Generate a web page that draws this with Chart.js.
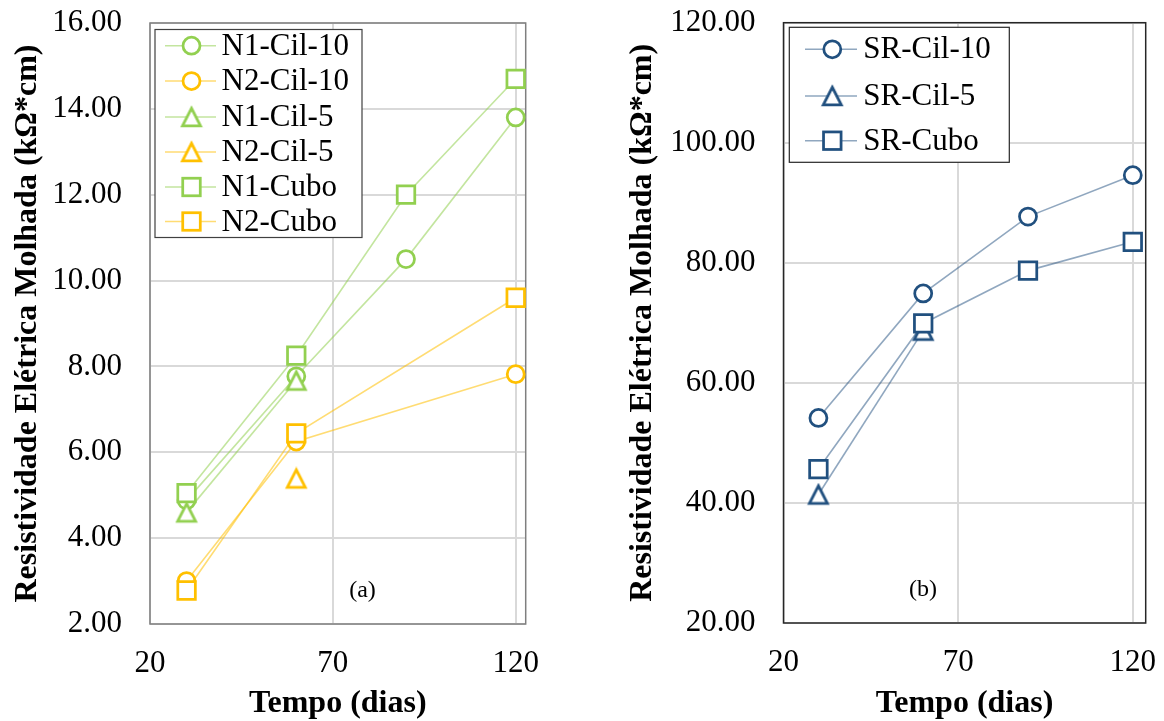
<!DOCTYPE html>
<html><head><meta charset="utf-8">
<script src="https://cdn.jsdelivr.net/npm/chart.js@4/dist/chart.umd.min.js"></script>
<style>
html,body{margin:0;padding:0;background:#fff;width:1164px;height:721px;overflow:hidden}
#ca{position:absolute;left:0;top:0}
#cb{position:absolute;left:580px;top:0}
</style></head><body>
<canvas id="ca" width="580" height="721"></canvas>
<canvas id="cb" width="584" height="721"></canvas>
<script>
// ---- data ----
const days = [30, 60, 90, 120];
const n1Cil10 = [4.88, 7.77, 10.5, 13.8];
const n2Cil10 = [3.0, 6.25, null, 7.82];
const n1Cil5  = [4.6, 7.67, null, null];
const n2Cil5  = [null, 5.39, null, null];
const n1Cubo  = [5.05, 8.25, 12.0, 14.7];
const n2Cubo  = [2.78, 6.44, null, 9.6];

const srCil10 = [54.15, 74.9, 87.7, 94.6];
const srCil5  = [41.4, 68.7, null, null];
const srCubo  = [45.65, 69.9, 78.7, 83.5];

const xTickValues = [20, 70, 120];
const yTicksA = [2, 4, 6, 8, 10, 12, 14, 16];
const yTicksB = [20, 40, 60, 80, 100, 120];
const labelsA = ['N1-Cil-10', 'N2-Cil-10', 'N1-Cil-5', 'N2-Cil-5', 'N1-Cubo', 'N2-Cubo'];
const labelsB = ['SR-Cil-10', 'SR-Cil-5', 'SR-Cubo'];
const yTitle = 'Resistividade Elétrica Molhada (kΩ*cm)';
const xTitle = 'Tempo (dias)';

// ---- styles ----
const FONT = "'Liberation Serif', 'Times New Roman', serif";
const GREEN = '#92D050', GREEN_L = 'rgba(146,208,80,0.55)';
const ORANGE = '#FFC000', ORANGE_L = 'rgba(255,192,0,0.55)';
const BLUE = '#21507F', BLUE_L = 'rgba(33,80,127,0.5)';
const MW = 2.75;

function triImg(color) {
  const w = 18, h = 17.5;
  const c = document.createElement('canvas');
  c.width = 24; c.height = 24;
  const g = c.getContext('2d');
  g.strokeStyle = color; g.lineWidth = MW; g.lineJoin = 'miter';
  g.fillStyle = '#fff';
  const x0 = (c.width - w) / 2, y0 = (c.height - h) / 2;
  g.beginPath();
  g.moveTo(c.width / 2, y0);
  g.lineTo(x0 + w, y0 + h);
  g.lineTo(x0, y0 + h);
  g.closePath();
  g.fill();
  g.stroke();
  return c;
}

function pts(arr) {
  const out = [];
  arr.forEach((v, i) => { if (v !== null) out.push({x: days[i], y: v}); });
  return out;
}

function ds(label, arr, marker, lineColor, shape, idx) {
  let pointStyle = shape, r = 8.5;
  if (shape === 'rect') r = 12.4;
  if (shape === 'triangle') { pointStyle = triImg(marker); r = 10; }
  return {
    label, data: pts(arr), shape, markerColor: marker,
    borderColor: lineColor, borderWidth: 1.6, tension: 0,
    pointStyle, pointRadius: r, pointHoverRadius: r,
    pointBorderColor: marker, pointBackgroundColor: '#ffffff',
    pointBorderWidth: MW, clip: false, order: -idx, showLine: true
  };
}

function drawMarker(ctx, shape, color, x, y, img) {
  ctx.save();
  ctx.strokeStyle = color; ctx.lineWidth = MW; ctx.fillStyle = '#fff';
  if (shape === 'circle') {
    ctx.beginPath(); ctx.arc(x, y, 8.5, 0, Math.PI * 2); ctx.fill(); ctx.stroke();
  } else if (shape === 'rect') {
    const s = 8.77; ctx.fillRect(x - s, y - s, 2 * s, 2 * s); ctx.strokeRect(x - s, y - s, 2 * s, 2 * s);
  } else {
    ctx.drawImage(img, x - img.width / 2, y - img.height / 2);
  }
  ctx.restore();
}

function frameAndLegend(cfg) {
  return {
    id: 'frameLegend',
    beforeDatasetsDraw(chart) {
      const {ctx, chartArea: a} = chart;
      ctx.save();
      ctx.strokeStyle = cfg.frameColor; ctx.lineWidth = 1.5;
      ctx.strokeRect(a.left, a.top, a.right - a.left, a.bottom - a.top);
      ctx.restore();
    },
    afterDraw(chart) {
      const ctx = chart.ctx;
      const b = cfg.box;
      ctx.save();
      ctx.fillStyle = '#fff';
      ctx.fillRect(b.x, b.y, b.w, b.h);
      ctx.strokeStyle = cfg.boxColor; ctx.lineWidth = 1.2;
      ctx.strokeRect(b.x, b.y, b.w, b.h);
      chart.data.datasets.forEach((d, i) => {
        const y = cfg.rowY[i];
        ctx.strokeStyle = d.borderColor; ctx.lineWidth = 1.6;
        ctx.beginPath(); ctx.moveTo(cfg.lineX1, y); ctx.lineTo(cfg.lineX2, y); ctx.stroke();
        drawMarker(ctx, d.shape, d.markerColor, cfg.markX, y, d.pointStyle);
        ctx.fillStyle = '#000';
        ctx.font = '31px ' + FONT;
        ctx.textAlign = 'left'; ctx.textBaseline = 'middle';
        ctx.fillText(d.label, cfg.textX, y + 1);
      });
      ctx.font = '24px ' + FONT;
      ctx.textAlign = 'center'; ctx.textBaseline = 'middle';
      ctx.fillStyle = '#000';
      ctx.fillText(cfg.tag.text, cfg.tag.x, cfg.tag.y);
      ctx.restore();
    }
  };
}

function makeOptions(o) {
  return {
    responsive: false, animation: false, devicePixelRatio: 1,
    layout: {padding: {left: o.padLeft, right: o.padRight, top: o.padTop, bottom: 0}},
    plugins: {legend: {display: false}, tooltip: {enabled: false}},
    scales: {
      x: {
        type: 'linear', min: 20, max: o.xMax,
        afterBuildTicks: s => { s.ticks = xTickValues.map(v => ({value: v})); },
        afterFit: s => { s.height = o.xAxisH; s.paddingLeft = 0; s.paddingRight = 0; },
        ticks: {font: {family: FONT, size: 31}, color: '#000', padding: 21, autoSkip: false, maxRotation: 0,
                callback: v => String(v)},
        grid: {color: '#d9d9d9', lineWidth: 2, drawTicks: false},
        border: {display: false},
        title: {display: true, text: xTitle, color: '#000',
                font: {family: FONT, size: 32, weight: 'bold', lineHeight: 1.05},
                padding: {top: 0, bottom: 0}}
      },
      y: {
        type: 'linear', min: o.yMin, max: o.yMax,
        afterBuildTicks: s => { s.ticks = o.yTicks.map(v => ({value: v})); },
        afterFit: s => { s.width = o.yAxisW; s.paddingTop = 0; s.paddingBottom = 0; },
        ticks: {font: {family: FONT, size: 31}, color: '#000', padding: 28, autoSkip: false,
                callback: v => Number(v).toFixed(2)},
        grid: {color: '#d9d9d9', lineWidth: 2, drawTicks: false},
        border: {display: false},
        title: {display: true, text: yTitle, color: '#000', font: {family: FONT, size: 32, weight: 'bold'},
                padding: {top: o.yTitlePad, bottom: 0}}
      }
    }
  };
}

// ---- chart (a) ----
new Chart(document.getElementById('ca'), {
  type: 'line',
  data: {datasets: [
    ds(labelsA[0], n1Cil10, GREEN, GREEN_L, 'circle', 0),
    ds(labelsA[1], n2Cil10, ORANGE, ORANGE_L, 'circle', 1),
    ds(labelsA[2], n1Cil5, GREEN, GREEN_L, 'triangle', 2),
    ds(labelsA[3], n2Cil5, ORANGE, ORANGE_L, 'triangle', 3),
    ds(labelsA[4], n1Cubo, GREEN, GREEN_L, 'rect', 4),
    ds(labelsA[5], n2Cubo, ORANGE, ORANGE_L, 'rect', 5)
  ]},
  options: makeOptions({padLeft: 5, padRight: 54.3, padTop: 23, xMax: 122.73, xAxisH: 97,
                        yMin: 2, yMax: 16, yTicks: yTicksA, yAxisW: 145, yTitlePad: 4}),
  plugins: [frameAndLegend({
    frameColor: '#7f7f7f', boxColor: '#404040',
    box: {x: 155, y: 29.5, w: 207, h: 208},
    rowY: [45.7, 81, 117, 152, 187, 221.5],
    lineX1: 165, lineX2: 216, markX: 191.5, textX: 221.5,
    tag: {text: '(a)', x: 362.5, y: 591}
  })]
});

// ---- chart (b) ----
new Chart(document.getElementById('cb'), {
  type: 'line',
  data: {datasets: [
    ds(labelsB[0], srCil10, BLUE, BLUE_L, 'circle', 0),
    ds(labelsB[1], srCil5, BLUE, BLUE_L, 'triangle', 1),
    ds(labelsB[2], srCubo, BLUE, BLUE_L, 'rect', 2)
  ]},
  options: makeOptions({padLeft: 40, padRight: 18.3, padTop: 22.7, xMax: 123.7, xAxisH: 98,
                        yMin: 20, yMax: 120, yTicks: yTicksB, yAxisW: 163.5, yTitlePad: 3.4}),
  plugins: [frameAndLegend({
    frameColor: '#262626', boxColor: '#262626',
    box: {x: 209.3, y: 27.3, w: 220, h: 135},
    rowY: [49.3, 96, 140.7],
    lineX1: 225, lineX2: 277, markX: 252.3, textX: 283.3,
    tag: {text: '(b)', x: 343, y: 590}
  })]
});
</script>
</body></html>
